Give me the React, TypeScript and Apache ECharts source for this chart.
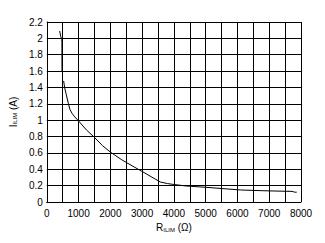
import React, { useEffect, useRef } from "react";
import * as echarts from "echarts";

const resistance: (number | null)[] = [405, 440, 470, 475, 478, null, 530, 560, 615, 680, 730, 800, 880, 1000, 1250, 1500, 1750, 2000, 2343, 2650, 2969, 3281, 3570, 3800, 4000, 4375, 5000, 5500, 6094, 6800, 7400, 7719, 7800, 7865];
const current: (number | null)[] = [2.09, 2.02, 1.99, 1.95, 1.59, null, 1.48, 1.40, 1.31, 1.20, 1.13, 1.08, 1.04, 0.99, 0.88, 0.79, 0.69, 0.61, 0.52, 0.45, 0.38, 0.31, 0.245, 0.225, 0.214, 0.196, 0.18, 0.165, 0.147, 0.138, 0.132, 0.13, 0.12, 0.12];

export default function App() {
  const ref = useRef<HTMLDivElement>(null);
  useEffect(() => {
    if (!ref.current) return;
    const chart = echarts.init(ref.current, null, { renderer: "svg" });
    const data = resistance.map((r, i) => (r === null ? [null, null] : [r, current[i]]));
    const font = "Liberation Sans, Arial, sans-serif";
    chart.setOption({
      animation: false,
      backgroundColor: "#fff",
      grid: { left: 45, top: 22, right: 24, bottom: 41 },
      xAxis: {
        type: "value",
        min: 0,
        max: 8000,
        interval: 500,
        name: "{m|R}{s|ILIM}{m| (Ω)}",
        nameLocation: "middle",
        nameGap: 20,
        nameTextStyle: {
          rich: {
            m: { fontSize: 10, fontFamily: font, color: "#000" },
            s: { fontSize: 6, fontFamily: font, color: "#000", padding: [4, 0, 0, 0] },
          },
        },
        axisLine: { show: true, lineStyle: { color: "#000", width: 1 } },
        axisTick: { show: false },
        splitLine: { show: true, lineStyle: { color: "#000", width: 1 } },
        axisLabel: {
          interval: 1,
          color: "#000",
          fontSize: 10,
          fontFamily: font,
          margin: 6,
          formatter: (v: number) => (v % 1000 === 0 ? String(v) : ""),
        },
      },
      yAxis: {
        type: "value",
        min: 0,
        max: 2.2,
        interval: 0.2,
        name: "{m|I}{s|ILIM}{m| (A)}",
        nameLocation: "middle",
        nameGap: 15,
        nameRotate: 90,
        nameTextStyle: {
          rich: {
            m: { fontSize: 10, fontFamily: font, color: "#000" },
            s: { fontSize: 6, fontFamily: font, color: "#000", padding: [4, 0, 0, 0] },
          },
        },
        axisLine: { show: true, lineStyle: { color: "#000", width: 1 } },
        axisTick: { show: false },
        splitLine: { show: true, lineStyle: { color: "#000", width: 1 } },
        axisLabel: {
          color: "#000",
          fontSize: 10,
          fontFamily: font,
          margin: 4,
          formatter: (v: number) => String(Math.round(v * 10) / 10),
        },
      },
      series: [
        {
          type: "line",
          data,
          showSymbol: false,
          connectNulls: false,
          lineStyle: { color: "#000", width: 1 },
        },
      ],
    });
    return () => chart.dispose();
  }, []);
  return <div ref={ref} style={{ width: 325, height: 243, position: "absolute", left: 0, top: 0 }} />;
}
